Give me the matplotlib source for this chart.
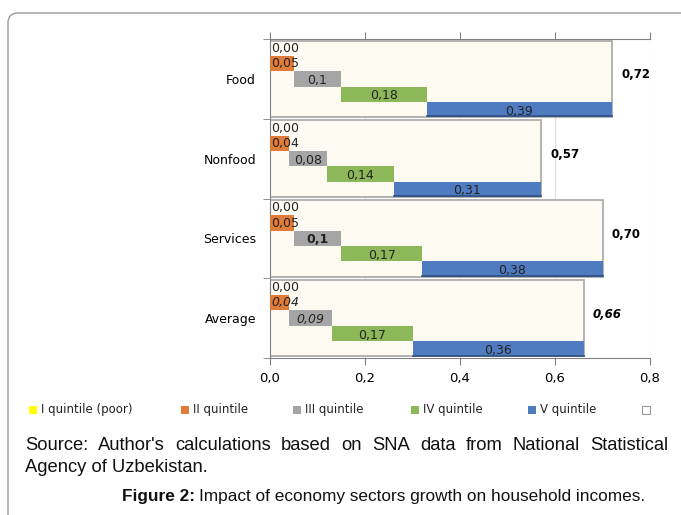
import numpy as np
import matplotlib
matplotlib.use('Agg')
import matplotlib.pyplot as plt
from matplotlib.patches import Rectangle, FancyBboxPatch

# Data
categories = ['Food', 'Nonfood', 'Services', 'Average']
q1 = [0.00, 0.00, 0.00, 0.00]
q2 = [0.05, 0.04, 0.05, 0.04]
q3 = [0.10, 0.08, 0.10, 0.09]
q4 = [0.18, 0.14, 0.17, 0.17]
q5 = [0.39, 0.31, 0.38, 0.36]
totals = [0.72, 0.57, 0.70, 0.66]
legend_labels = ['I quintile (poor)', 'II quintile', 'III quintile',
                 'IV quintile', 'V quintile', '']
xticks = [0.0, 0.2, 0.4, 0.6, 0.8]

colors = ['#FFFF00', '#E07B39', '#A5A5A5', '#8DB85A', '#4F7CC0']
cream = '#FDFAF1'

fig = plt.figure(figsize=(6.81, 5.15), dpi=100)
W, H = 681, 515

# outer rounded frame
frame = FancyBboxPatch((0.08, -1.0), 8.0, 6.02,
                       boxstyle='round,pad=0,rounding_size=0.1',
                       transform=fig.dpi_scale_trans, facecolor='none',
                       edgecolor='#9a9a9a', lw=1.0)
fig.patches.append(frame)

ax = fig.add_axes([270 / W, 1 - 358 / H, (650 - 270) / W, (358 - 39) / H])

series = [q1, q2, q3, q4, q5]
y = np.arange(len(categories))
band_h = 0.96
row_h = band_h / 5

# background total boxes
ax.barh(y, totals, height=band_h, color=cream, edgecolor='#a6a6a6',
        lw=1.2, zorder=2)

left = np.zeros(len(categories))
for k, vals in enumerate(series):
    vals = np.array(vals)
    yc = y - band_h / 2 + row_h * (k + 0.5)
    ax.barh(yc, vals, left=left, height=row_h, color=colors[k],
            edgecolor='none', zorder=3)
    if k == 4:
        # darker bottom edge on the last bars
        for i in range(len(categories)):
            ax.plot([left[i], left[i] + vals[i]],
                    [yc[i] + row_h / 2 - 0.01] * 2, color='#2f4f80',
                    lw=1.2, zorder=4)
    for i in range(len(categories)):
        style = 'normal'
        weight = 'normal'
        if categories[i] == 'Average' and k in (1, 2):
            style = 'italic'
        if categories[i] == 'Services' and k == 2:
            weight = 'bold'
        if k > 0 and abs(vals[i] - 0.1) < 1e-9:
            txt = '0,1'
        else:
            txt = '{:.2f}'.format(vals[i]).replace('.', ',')
        if k <= 1:
            ax.text(left[i] + 0.003, yc[i], txt, ha='left', va='center',
                    fontsize=9, color='#222222', style=style,
                    weight=weight, zorder=5)
        else:
            ax.text(left[i] + vals[i] / 2, yc[i] + 0.02, txt, ha='center',
                    va='center', fontsize=9, color='#222222',
                    style=style, weight=weight, zorder=5)
    left = left + vals

for i, t in enumerate(totals):
    style = 'italic' if categories[i] == 'Average' else 'normal'
    ax.text(t + 0.02, y[i] - 0.05, '{:.2f}'.format(t).replace('.', ','),
            ha='left', va='center', fontsize=8.5, weight='bold', style=style)

ax.set_xlim(0, 0.8)
ax.set_ylim(3.5, -0.5)
ax.set_xticks(xticks)
ax.set_xticklabels(['{:.1f}'.format(v).replace('.', ',') for v in xticks],
                   fontsize=9.5)
ax.set_yticks(y)
ax.set_yticklabels(categories, fontsize=9)
ax.set_yticks(np.arange(-0.5, 4, 1), minor=True)
ax.tick_params(axis='y', which='major', length=0, pad=10)
ax.tick_params(axis='y', which='minor', length=5, color='#808080',
               direction='out')
ax.tick_params(axis='x', which='major', length=5, color='#808080',
               direction='out', top=True, labeltop=False, pad=5)
ax.xaxis.grid(True, color='#dedede', lw=0.8, zorder=0)
ax.set_axisbelow(True)
for s in ['top', 'bottom', 'left']:
    ax.spines[s].set_color('#808080')
ax.spines['right'].set_visible(False)

# legend
sq_x = [29, 181, 293, 411, 528, 642]
for k, lab in enumerate(legend_labels):
    x0 = sq_x[k]
    if k < 5:
        r = Rectangle((x0 / W, 1 - 414 / H), 8 / W, 8 / H, transform=fig.transFigure,
                      facecolor=colors[k], edgecolor='none')
    else:
        r = Rectangle((x0 / W, 1 - 414 / H), 8 / W, 8 / H, transform=fig.transFigure,
                      facecolor='white', edgecolor='#999999', lw=0.8)
    fig.patches.append(r)
    fig.text((x0 + 12) / W, 1 - 410 / H, lab, fontsize=8.5, va='center',
             ha='left', color='#222222')

# source text, justified first line
renderer = fig.canvas.get_renderer()
words = "Source: Author's calculations based on SNA data from National Statistical".split()
src_font = dict(family='Liberation Sans', fontsize=13.2, color='#111111')
texts = [fig.text(0, 1 - 445 / H, w, va='center', ha='left', **src_font)
         for w in words]
widths = [t.get_window_extent(renderer).width for t in texts]
x0, x1 = 25, 668
gap = (x1 - x0 - sum(widths)) / (len(words) - 1)
xpos = x0
for t, w in zip(texts, widths):
    t.set_x(xpos / W)
    xpos += w + gap
fig.text(25 / W, 1 - 467 / H, 'Agency of Uzbekistan.', va='center', ha='left',
         **src_font)

cap_font = dict(family='Liberation Sans', fontsize=12.4, color='#111111')
t1 = fig.text(122 / W, 1 - 496 / H, 'Figure 2:', va='center', ha='left',
              weight='bold', **cap_font)
w1 = t1.get_window_extent(renderer).width
fig.text((122 + w1 + 4) / W, 1 - 496 / H,
         'Impact of economy sectors growth on household incomes.',
         va='center', ha='left', **cap_font)

fig.savefig('out.png', dpi=100)
